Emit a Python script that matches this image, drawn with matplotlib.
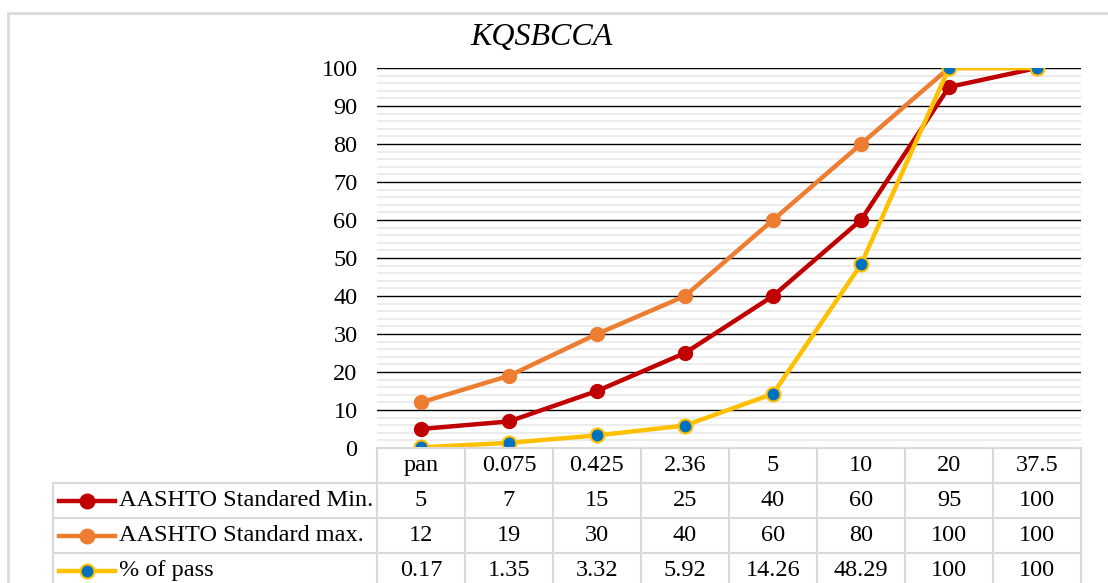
import matplotlib.pyplot as plt
from matplotlib.lines import Line2D
from matplotlib.patches import Rectangle

plt.rcParams['font.family'] = ['Liberation Serif', 'DejaVu Serif']

sieves = ["pan", "0.075", "0.425", "2.36", "5", "10", "20", "37.5"]
spec_min = [5, 7, 15, 25, 40, 60, 95, 100]
spec_max = [12, 19, 30, 40, 60, 80, 100, 100]
passing = [0.17, 1.35, 3.32, 5.92, 14.26, 48.29, 100, 100]
series_names = ["AASHTO Standared Min.", "AASHTO Standard max.", "% of pass"]

W, H = 1108, 583
FS = 17.5
fig = plt.figure(figsize=(W / 100, H / 100), dpi=100)

# pixel helpers (origin top-left)
def fx(px):
    return px / W

def fy(py):
    return 1 - py / H

left, right, top, bottom = 377, 1081, 68, 448
ax = fig.add_axes([fx(left), fy(bottom), fx(right - left), (bottom - top) / H])

xs = list(range(len(sieves)))
ax.plot(xs, spec_min, color="#C00000", lw=3.2, marker="o", ms=10, zorder=3)
ax.plot(xs, spec_max, color="#ED7D31", lw=3.2, marker="o", ms=10, zorder=3)
ax.plot(xs, passing, color="#FFC000", lw=3.2, marker="o", ms=10,
        mfc="#0070C0", mec="#FFC000", mew=1.5, zorder=4)

ax.set_xlim(-0.5, len(sieves) - 0.5)
ax.set_ylim(0, 100)
ax.set_yticks(range(0, 101, 10))
ax.set_yticks(range(0, 101, 2), minor=True)
ax.grid(axis="y", which="minor", color="#ececec", lw=1.5, zorder=0)
ax.grid(axis="y", which="major", color="black", lw=1, zorder=1)
ax.set_xticks([])
ax.tick_params(axis="y", which="both", length=0, pad=14, labelsize=FS)
for s in ax.spines.values():
    s.set_visible(False)
ax.patch.set_alpha(0)

fig.text(fx(542), fy(38), "KQSBCCA", ha="center", va="center",
         fontsize=23, style="italic")

# outer chart border
fig.add_artist(Rectangle((fx(8), fy(600)), fx(1120 - 8), (600 - 13) / H,
                         fill=False, ec="#d9d9d9", lw=2))

# data table below the plot
grid_c = "#d9d9d9"
col_w = (right - left) / len(sieves)
row_h = 35
rows_y = [bottom + i * row_h for i in range(5)]
leg_left = 53

fig.add_artist(Line2D([fx(left), fx(right)], [fy(rows_y[0])] * 2, color=grid_c, lw=1.5))
for y in rows_y[1:]:
    fig.add_artist(Line2D([fx(leg_left), fx(right)], [fy(y)] * 2, color=grid_c, lw=1.5))
for i in range(len(sieves) + 1):
    x = left + i * col_w
    fig.add_artist(Line2D([fx(x), fx(x)], [fy(rows_y[0]), fy(rows_y[-1])], color=grid_c, lw=1.5))
fig.add_artist(Line2D([fx(leg_left)] * 2, [fy(rows_y[1]), fy(rows_y[-1])], color=grid_c, lw=1.5))

table_rows = [spec_min, spec_max, passing]
for i, lab in enumerate(sieves):
    cx = left + (i + 0.5) * col_w
    fig.text(fx(cx), fy(rows_y[0] + row_h / 2), lab, ha="center", va="center", fontsize=FS)
    for r, vals in enumerate(table_rows):
        fig.text(fx(cx), fy(rows_y[r + 1] + row_h / 2), f"{vals[i]:g}",
                 ha="center", va="center", fontsize=FS)

# legend keys in the table's first column
key_styles = [
    dict(color="#C00000", mfc="#C00000", mec="#C00000"),
    dict(color="#ED7D31", mfc="#ED7D31", mec="#ED7D31"),
    dict(color="#FFC000", mfc="#0070C0", mec="#FFC000"),
]
for r, (name, st) in enumerate(zip(series_names, key_styles)):
    yc = fy(rows_y[r + 1] + row_h / 2)
    fig.add_artist(Line2D([fx(59), fx(115)], [yc, yc], color=st["color"], lw=3.2))
    fig.add_artist(Line2D([fx(87)], [yc], marker="o", ms=10, mfc=st["mfc"],
                          mec=st["mec"], mew=1.5, lw=0))
    fig.text(fx(119), yc, name, ha="left", va="center", fontsize=FS)

fig.savefig("out.png", dpi=100)
